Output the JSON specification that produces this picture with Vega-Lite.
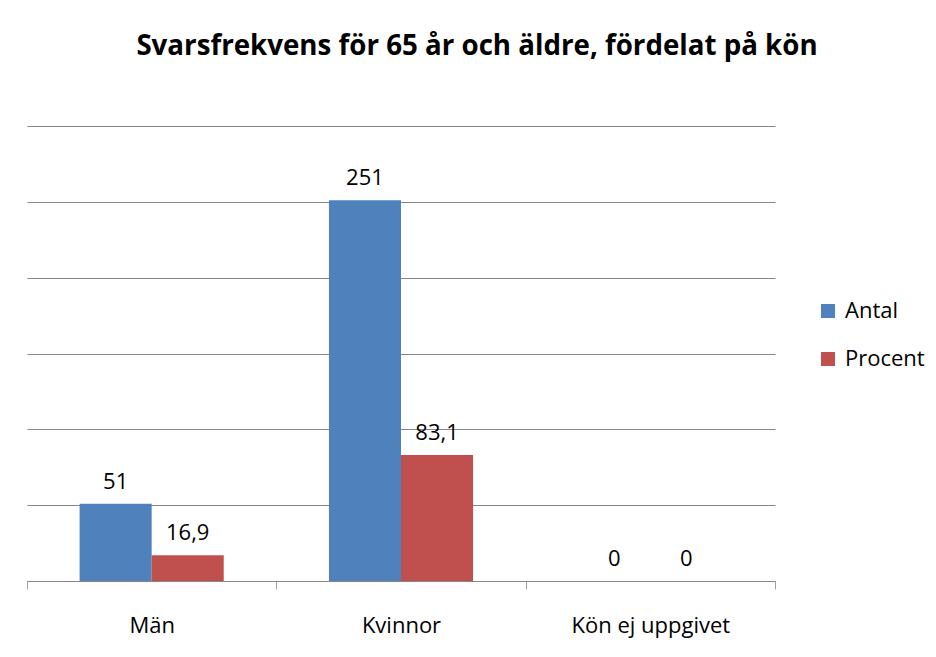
{
  "$schema": "https://vega.github.io/schema/vega-lite/v6.json",
  "width": 748,
  "height": 455,
  "autosize": "none",
  "padding": {"left": 27, "top": 126, "right": 161, "bottom": 76},
  "background": "white",
  "config": {
    "font": "Open Sans",
    "view": {"stroke": null},
    "locale": {"number": {"decimal": ",", "thousands": " ", "grouping": [3], "currency": ["", " kr"]}}
  },
  "title": {
    "text": "Svarsfrekvens för 65 år och äldre, fördelat på kön",
    "font": "Open Sans",
    "fontSize": 27.7,
    "fontWeight": "bold",
    "color": "black",
    "anchor": "middle",
    "frame": "group",
    "dx": 76,
    "baseline": "alphabetic",
    "offset": 43
  },
  "data": {
    "values": [
      {"kategori": "Män", "serie": "Antal", "varde": 51},
      {"kategori": "Män", "serie": "Procent", "varde": 16.9},
      {"kategori": "Kvinnor", "serie": "Antal", "varde": 251},
      {"kategori": "Kvinnor", "serie": "Procent", "varde": 83.1},
      {"kategori": "Kön ej uppgivet", "serie": "Antal", "varde": 0},
      {"kategori": "Kön ej uppgivet", "serie": "Procent", "varde": 0}
    ]
  },
  "encoding": {
    "x": {
      "field": "kategori",
      "type": "nominal",
      "sort": ["Män", "Kvinnor", "Kön ej uppgivet"],
      "scale": {"paddingInner": 0, "paddingOuter": 0},
      "axis": {
        "title": null,
        "labelAngle": 0,
        "labelFont": "Open Sans",
        "labelFontSize": 22,
        "labelColor": "black",
        "labelPadding": 26,
        "tickBand": "extent",
        "tickSize": 8,
        "tickColor": "#a0a0a0",
        "domainColor": "#868686",
        "grid": false
      }
    },
    "xOffset": {
      "field": "serie",
      "type": "nominal",
      "scale": {"paddingInner": 0, "paddingOuter": 0.73}
    },
    "y": {
      "field": "varde",
      "type": "quantitative",
      "scale": {"domain": [0, 300], "nice": false},
      "axis": {
        "title": null,
        "labels": false,
        "ticks": false,
        "domain": false,
        "grid": true,
        "gridColor": "#868686",
        "values": [0, 50, 100, 150, 200, 250, 300]
      }
    }
  },
  "layer": [
    {
      "mark": {"type": "bar"},
      "encoding": {
        "color": {
          "field": "serie",
          "type": "nominal",
          "scale": {"domain": ["Antal", "Procent"], "range": ["#4F81BD", "#C0504D"]},
          "legend": {
            "title": null,
            "orient": "none",
            "legendX": 790,
            "legendY": 174,
            "symbolType": "square",
            "symbolSize": 196,
            "symbolStrokeWidth": 0,
            "labelFont": "Open Sans",
            "labelFontSize": 22,
            "labelColor": "black",
            "labelOffset": 6,
            "rowPadding": 26
          }
        }
      }
    },
    {
      "mark": {"type": "text", "baseline": "alphabetic", "dy": -15, "font": "Open Sans", "fontSize": 22, "color": "black"},
      "encoding": {
        "text": {"field": "varde", "type": "quantitative", "format": "~g"}
      }
    }
  ]
}
